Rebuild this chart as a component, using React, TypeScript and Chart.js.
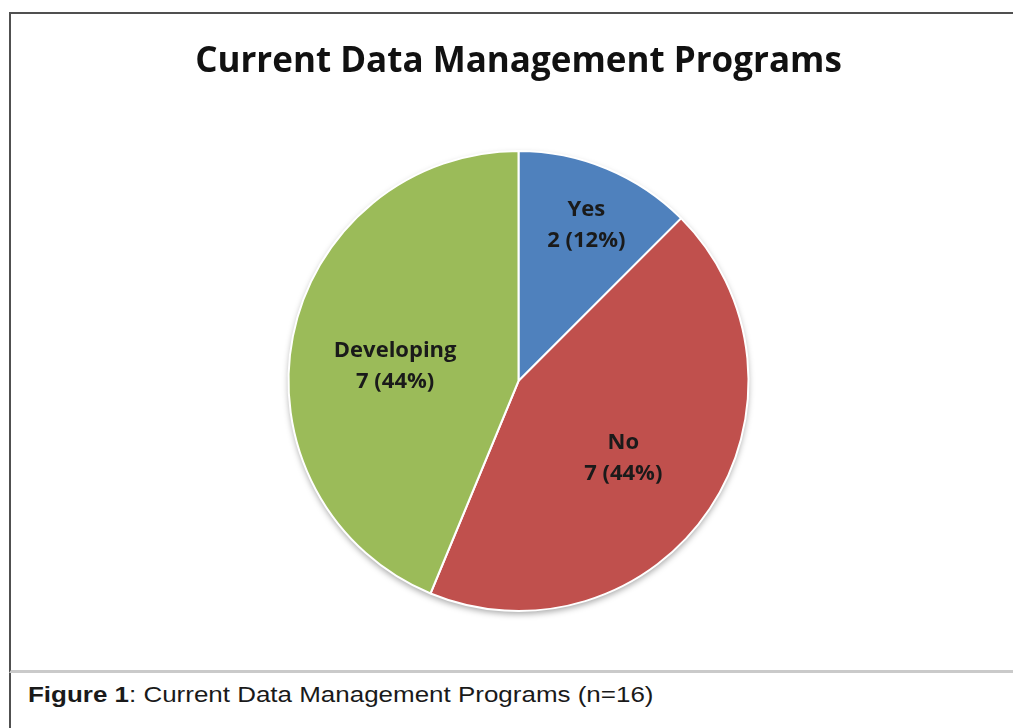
import React, { useEffect, useRef } from "react";
import { Chart, registerables } from "chart.js";

Chart.register(...registerables);

const categories = ["Yes", "No", "Developing"];
const counts = [2, 7, 7];
const percentLabels = ["12%", "44%", "44%"];
const sliceColors = ["#4F81BD", "#C0504D", "#9BBB59"];

const chartTitle = "Current Data Management Programs";
const captionBold = "Figure 1";
const captionRest = ": Current Data Management Programs (n=16)";

// label placement (fraction of radius, angle shift in degrees)
const labelRadius = [0.74, 0.565, 0.54];
const labelAngleShift = [1, 2.5, -4.5];

const labelPlugin = {
  id: "sliceLabels",
  afterDatasetsDraw(chart: any) {
    const ctx = chart.ctx;
    const meta = chart.getDatasetMeta(0);
    ctx.save();
    ctx.font = "bold 22px 'Open Sans'";
    ctx.fillStyle = "#1a1a1a";
    ctx.textAlign = "center";
    ctx.textBaseline = "middle";
    meta.data.forEach((arc: any, i: number) => {
      const p = arc.getProps(["x", "y", "startAngle", "endAngle", "outerRadius"], true);
      const mid = (p.startAngle + p.endAngle) / 2 + (labelAngleShift[i] * Math.PI) / 180;
      const r = p.outerRadius * labelRadius[i];
      const cx = p.x + Math.cos(mid) * r;
      const cy = p.y + Math.sin(mid) * r;
      const lh = 31;
      ctx.fillText(categories[i], cx, cy - lh / 2);
      ctx.fillText(`${counts[i]} (${percentLabels[i]})`, cx, cy + lh / 2);
    });
    ctx.restore();
  },
};

const shadowPlugin = {
  id: "pieShadow",
  beforeDatasetsDraw(chart: any) {
    const meta = chart.getDatasetMeta(0);
    const arc: any = meta.data[0];
    if (!arc) return;
    const p = arc.getProps(["x", "y", "outerRadius"], true);
    const ctx = chart.ctx;
    ctx.save();
    ctx.shadowColor = "rgba(0,0,0,0.35)";
    ctx.shadowBlur = 6;
    ctx.shadowOffsetY = 3;
    ctx.beginPath();
    ctx.arc(p.x, p.y, p.outerRadius, 0, Math.PI * 2);
    ctx.fillStyle = "#ffffff";
    ctx.fill();
    ctx.restore();
  },
};

export default function App() {
  const canvasRef = useRef<HTMLCanvasElement | null>(null);

  useEffect(() => {
    if (!canvasRef.current) return;
    const chart = new Chart(canvasRef.current, {
      type: "pie",
      data: {
        labels: categories,
        datasets: [
          {
            data: counts,
            backgroundColor: sliceColors,
            borderColor: "#ffffff",
            borderWidth: 2,
          },
        ],
      },
      options: {
        responsive: false,
        animation: false,
        layout: { padding: { left: 13, right: 0, top: 0, bottom: 58 } },
        plugins: {
          legend: { display: false },
          tooltip: { enabled: false },
          title: {
            display: true,
            text: chartTitle,
            color: "#111111",
            font: { family: "'Open Sans'", size: 35, weight: "bold", lineHeight: 1.2 },
            padding: { top: 27, bottom: 67 },
          },
        },
      },
      plugins: [shadowPlugin, labelPlugin],
    });
    return () => chart.destroy();
  }, []);

  return (
    <div
      style={{
        position: "absolute",
        left: 0,
        top: 0,
        width: 1013,
        height: 728,
        overflow: "hidden",
        background: "#ffffff",
      }}
    >
      <div
        style={{
          position: "absolute",
          left: 9,
          top: 12,
          width: 1100,
          height: 661,
          boxSizing: "border-box",
          borderTop: "2px solid #505050",
          borderLeft: "2px solid #505050",
          borderBottom: "3px solid #cacaca",
        }}
      />
      <div
        style={{
          position: "absolute",
          left: 9,
          top: 673,
          width: 2,
          height: 60,
          background: "#505050",
        }}
      />
      <canvas
        ref={canvasRef}
        width={1002}
        height={656}
        style={{ position: "absolute", left: 11, top: 14, width: 1002, height: 656 }}
      />
      <div
        style={{
          position: "absolute",
          left: 28,
          top: 681,
          fontFamily: "'Liberation Sans', Arial, sans-serif",
          fontSize: 22,
          lineHeight: "28px",
          color: "#1a1a1a",
          whiteSpace: "nowrap",
          transform: "scaleX(1.18)",
          transformOrigin: "0 0",
        }}
      >
        <b>{captionBold}</b>
        {captionRest}
      </div>
    </div>
  );
}
